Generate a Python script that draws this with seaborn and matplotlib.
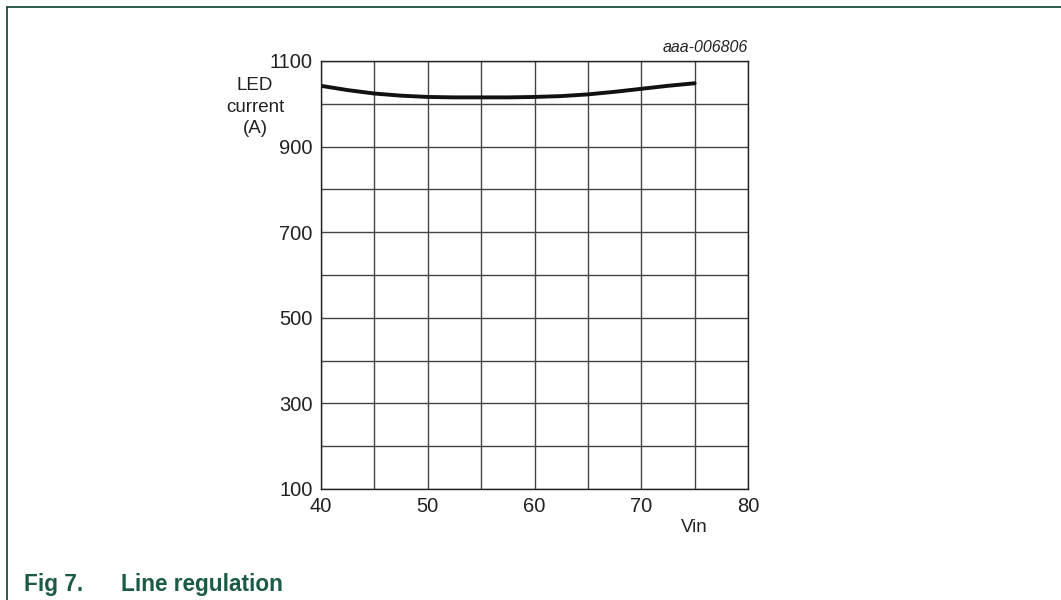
import matplotlib
matplotlib.use("Agg")
import matplotlib.pyplot as plt
import seaborn as sns
import pandas as pd
from matplotlib.lines import Line2D

vin = [40, 42.5, 45, 47.5, 50, 52.5, 55, 57.5, 60, 62.5, 65, 67.5, 70, 72.5, 75]
led_current = [1042, 1032, 1024, 1019, 1016, 1015, 1015, 1015, 1016, 1018, 1022, 1028, 1035, 1042, 1048]
x_ticks = [40, 50, 60, 70, 80]
y_ticks = [100, 300, 500, 700, 900, 1100]

sns.set_style("white")
plt.rcParams['font.family'] = ['Liberation Sans', 'DejaVu Sans']

df = pd.DataFrame({"Vin": vin, "LED current": led_current})

fig = plt.figure(figsize=(10.61, 6.0), dpi=100)
ax = fig.add_axes([321/1061, 1 - 489/600, (748-321)/1061, (489-61)/600])

sns.lineplot(data=df, x="Vin", y="LED current", ax=ax, color="#111111", linewidth=2.8)

ax.set_xlim(40, 80)
ax.set_ylim(100, 1100)
ax.set_xticks(x_ticks)
ax.set_yticks(y_ticks)
ax.set_xticks(range(40, 81, 5), minor=True)
ax.set_yticks(range(100, 1101, 100), minor=True)
ax.grid(which="both", color="#444444", linewidth=1.0)
ax.set_axisbelow(True)
ax.tick_params(which="both", length=0, labelsize=14.5, colors="#222222")
ax.tick_params(axis="y", pad=6)
ax.tick_params(axis="x", pad=6)
ax.set_xlabel("")
ax.set_ylabel("")
for s in ax.spines.values():
    s.set_visible(True)
    s.set_color("#222222")
    s.set_linewidth(1.0)

fig.text(255/1061, 1 - 107/600, "LED\ncurrent\n(A)", ha="center", va="center",
         fontsize=13.5, color="#222222", linespacing=1.35)
fig.text(694/1061, 1 - 528/600, "Vin", ha="center", va="center", fontsize=13.5, color="#222222")
fig.text(748/1061, 1 - 48/600, "aaa-006806", ha="right", va="center", fontsize=11.5,
         style="italic", color="#222222")
fig.text(24/1061, 1 - 584/600, "Fig 7.", ha="left", va="center", fontsize=16.3,
         fontweight="bold", color="#1b5a45")
fig.text(121/1061, 1 - 584/600, "Line regulation", ha="left", va="center", fontsize=16.3,
         fontweight="bold", color="#1b5a45")

border = "#1b4d3e"
fig.add_artist(Line2D([7/1061, 1.0], [1 - 7/600, 1 - 7/600], color=border, linewidth=1.3,
                      transform=fig.transFigure))
fig.add_artist(Line2D([7/1061, 7/1061], [1 - 7/600, 0.0], color=border, linewidth=1.3,
                      transform=fig.transFigure))

fig.savefig("out.png", dpi=100)
